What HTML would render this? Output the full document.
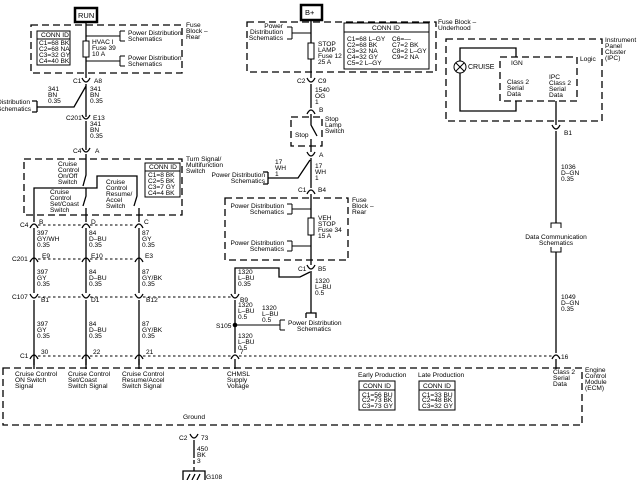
<!DOCTYPE html>
<html><head><meta charset="utf-8"><style>
body{margin:0;background:#fff}
svg{display:block}
text{font-family:"Liberation Sans",sans-serif;font-size:6.6px;fill:#000}
.w{stroke:#000;stroke-width:1.3;fill:none}
.d{stroke:#000;stroke-width:1.3;fill:none;stroke-dasharray:7,4}
.s{stroke:#000;stroke-width:1;fill:none;stroke-dasharray:2.5,2.5}
.b{stroke:#000;stroke-width:1;fill:#fff}
.t{stroke:#000;stroke-width:1;fill:none}
</style></head><body>
<svg width="640" height="480" viewBox="0 0 640 480" xmlns="http://www.w3.org/2000/svg">
<defs>
<path id="cup" d="M-4,-3 Q0,5 4,-3" stroke="#000" stroke-width="1.3" fill="none"/>
<path id="cap" d="M-4,3 Q0,-5 4,3" stroke="#000" stroke-width="1.3" fill="none"/>
</defs>

<!-- RUN -->
<rect x="75" y="8" width="22" height="14" fill="#fff" stroke="#000" stroke-width="2.5"/>
<text x="78" y="18" style="font-size:7.5px">RUN</text>
<rect x="31" y="25" width="151" height="48" class="d"/>
<rect x="37" y="31" width="33" height="34" class="b"/>
<line x1="37" y1="39" x2="70" y2="39" class="t"/>
<text x="41" y="37">CONN ID</text>
<text x="39" y="45">C1=68 BK</text><text x="39" y="51">C2=68 NA</text><text x="39" y="57">C3=32 GY</text><text x="39" y="63">C4=40 BK</text>
<line x1="86" y1="22" x2="86" y2="78" class="w"/>
<rect x="83" y="41" width="6" height="16" class="b"/>
<text x="92" y="44">HVAC I</text><text x="92" y="50">Fuse 39</text><text x="92" y="56">10 A</text>
<path d="M86,36 H120 M120,31 V41 M120,31 H125 M120,41 H125" class="t"/>
<text x="128" y="35">Power Distribution</text><text x="128" y="41">Schematics</text>
<path d="M86,61 H120 M120,56 V66 M120,56 H125 M120,66 H125" class="t"/>
<text x="128" y="60">Power Distribution</text><text x="128" y="66">Schematics</text>
<text x="186" y="27">Fuse</text><text x="186" y="33">Block –</text><text x="186" y="39">Rear</text>

<use href="#cup" x="86" y="81"/>
<text x="73" y="83">C1</text><text x="94" y="83">A8</text>
<path d="M86,84 V117 M86,86 L74,107 H37 M37,101 V112 M37,101 H32 M37,112 H32" class="w"/>
<text x="48" y="91">341</text><text x="48" y="97">BN</text><text x="48" y="103">0.35</text>
<text x="90" y="91">341</text><text x="90" y="97">BN</text><text x="90" y="103">0.35</text>
<text x="-3" y="104">Distribution</text><text x="-3" y="111">Schematics</text>
<use href="#cup" x="86" y="118"/>
<text x="66" y="120">C201</text><text x="93" y="120">E13</text>
<line x1="86" y1="121" x2="86" y2="150" class="w"/>
<text x="90" y="126">341</text><text x="90" y="132">BN</text><text x="90" y="138">0.35</text>
<use href="#cup" x="86" y="151"/>
<text x="73" y="153">C4</text><text x="95" y="153">A</text>

<!-- Turn signal switch -->
<rect x="24" y="159" width="158" height="56" class="d"/>
<text x="186" y="161">Turn Signal/</text><text x="186" y="167">Multifunction</text><text x="186" y="173">Switch</text>
<rect x="145" y="163" width="35" height="34" class="b"/>
<line x1="145" y1="171" x2="180" y2="171" class="t"/>
<text x="149" y="169">CONN ID</text>
<text x="148" y="177">C1=8 BK</text><text x="148" y="183">C2=5 BK</text><text x="148" y="189">C3=7 GY</text><text x="148" y="195">C4=4 BK</text>
<text x="58" y="166">Cruise</text><text x="58" y="172">Control</text><text x="58" y="178">On/Off</text><text x="58" y="184">Switch</text>
<text x="50" y="194">Cruise</text><text x="50" y="200">Control</text><text x="50" y="206">Set/Coast</text><text x="50" y="212">Switch</text>
<text x="106" y="184">Cruise</text><text x="106" y="190">Control</text><text x="106" y="196">Resume/</text><text x="106" y="202">Accel</text><text x="106" y="208">Switch</text>
<path d="M86,154 V175 L83,186 M86,188 V196 L83,206 M86,208 V222" class="w"/>
<path d="M34,222 V188 H97 V176 H137 V196 L134,206 M139,208 V222" class="w"/>

<!-- connector rows -->
<g>
<use href="#cap" x="34" y="225"/><use href="#cap" x="86" y="225"/><use href="#cap" x="139" y="225"/>
<path d="M38,225 H82 M90,225 H135" class="s"/>
<text x="20" y="227">C4</text><text x="39" y="224">B</text><text x="91" y="224">D</text><text x="144" y="224">C</text>
<use href="#cap" x="34" y="259"/><use href="#cap" x="86" y="259"/><use href="#cap" x="139" y="259"/>
<path d="M38,259 H82 M90,259 H135" class="s"/>
<text x="12" y="261">C201</text><text x="42" y="258">E9</text><text x="91" y="258">E10</text><text x="145" y="258">E3</text>
<use href="#cup" x="34" y="297"/><use href="#cup" x="86" y="297"/><use href="#cup" x="139" y="297"/><use href="#cup" x="235" y="297"/>
<path d="M38,297 H82 M90,297 H135 M143,297 H231" class="s"/>
<text x="12" y="299">C107</text><text x="41" y="302">B1</text><text x="91" y="302">D1</text><text x="146" y="302">B12</text><text x="240" y="302">B9</text>
<use href="#cap" x="34" y="356"/><use href="#cap" x="86" y="356"/><use href="#cap" x="139" y="356"/><use href="#cap" x="235" y="356"/><use href="#cap" x="556" y="356"/>
<path d="M38,356 H82 M90,356 H135 M143,356 H231 M239,356 H552" class="s"/>
<text x="20" y="358">C1</text><text x="41" y="354">30</text><text x="93" y="354">22</text><text x="146" y="354">21</text><text x="240" y="354">7</text><text x="561" y="359">16</text>
</g>
<path d="M34,228 V293 M34,300 V365 M86,228 V293 M86,300 V365 M139,228 V293 M139,300 V365" class="w"/>
<g>
<text x="37" y="235">397</text><text x="37" y="241">GY/WH</text><text x="37" y="247">0.35</text>
<text x="89" y="235">84</text><text x="89" y="241">D–BU</text><text x="89" y="247">0.35</text>
<text x="142" y="235">87</text><text x="142" y="241">GY</text><text x="142" y="247">0.35</text>
<text x="37" y="274">397</text><text x="37" y="280">GY</text><text x="37" y="286">0.35</text>
<text x="89" y="274">84</text><text x="89" y="280">D–BU</text><text x="89" y="286">0.35</text>
<text x="142" y="274">87</text><text x="142" y="280">GY/BK</text><text x="142" y="286">0.35</text>
<text x="37" y="326">397</text><text x="37" y="332">GY</text><text x="37" y="338">0.35</text>
<text x="89" y="326">84</text><text x="89" y="332">D–BU</text><text x="89" y="338">0.35</text>
<text x="142" y="326">87</text><text x="142" y="332">GY/BK</text><text x="142" y="338">0.35</text>
</g>

<!-- B+ -->
<rect x="301" y="5" width="21" height="15" fill="#fff" stroke="#000" stroke-width="2.5"/>
<text x="305" y="15" style="font-size:7.5px">B+</text>
<rect x="247" y="22" width="189" height="50" class="d"/>
<text x="438" y="24">Fuse Block –</text><text x="438" y="30">Underhood</text>
<line x1="311" y1="20" x2="311" y2="78" class="w"/>
<rect x="308" y="43" width="6" height="16" class="b"/>
<text x="318" y="46">STOP</text><text x="318" y="52">LAMP</text><text x="318" y="58">Fuse 12</text><text x="318" y="64">25 A</text>
<path d="M311,33 H292 M292,27 V39 M292,27 H287 M292,39 H287" class="t"/>
<text x="283" y="28" text-anchor="end">Power</text><text x="283" y="34" text-anchor="end">Distribution</text><text x="283" y="40" text-anchor="end">Schematics</text>
<rect x="344" y="23" width="85" height="46" class="b"/>
<line x1="344" y1="32" x2="429" y2="32" class="t"/>
<text x="372" y="30">CONN ID</text>
<text x="347" y="41">C1=68 L–GY</text><text x="347" y="47">C2=68 BK</text><text x="347" y="53">C3=32 NA</text><text x="347" y="59">C4=32 GY</text><text x="347" y="65">C5=2 L–GY</text>
<text x="392" y="41">C6=—</text><text x="392" y="47">C7=2 BK</text><text x="392" y="53">C8=2 L–GY</text><text x="392" y="59">C9=2 NA</text>
<use href="#cup" x="311" y="81"/>
<text x="297" y="83">C2</text><text x="318" y="83">C9</text>
<line x1="311" y1="84" x2="311" y2="108" class="w"/>
<text x="315" y="92">1540</text><text x="315" y="98">OG</text><text x="315" y="104">1</text>
<use href="#cap" x="311" y="111"/><text x="319" y="112">B</text>
<rect x="291" y="117" width="31" height="29" class="d"/>
<text x="295" y="137">Stop</text>
<text x="325" y="121">Stop</text><text x="325" y="127">Lamp</text><text x="325" y="133">Switch</text>
<path d="M311,114 V125 L317,136 M311,139 V152" class="w"/>
<use href="#cup" x="311" y="155"/><text x="319" y="157">A</text>
<path d="M311,158 V188 M310,160 L298,178 H268 M268,172 V184 M268,172 H263 M268,184 H263" class="w"/>
<text x="275" y="164">17</text><text x="275" y="170">WH</text><text x="275" y="176">1</text>
<text x="315" y="168">17</text><text x="315" y="174">WH</text><text x="315" y="180">1</text>
<text x="265" y="177" text-anchor="end">Power Distribution</text><text x="265" y="183" text-anchor="end">Schematics</text>
<use href="#cap" x="311" y="191"/>
<text x="298" y="192">C1</text><text x="318" y="192">B4</text>

<rect x="225" y="198" width="123" height="62" class="d"/>
<text x="352" y="202">Fuse</text><text x="352" y="208">Block –</text><text x="352" y="214">Rear</text>
<path d="M311,194 V265" class="w"/>
<rect x="308" y="218" width="6" height="17" class="b"/>
<text x="318" y="220">VEH</text><text x="318" y="226">STOP</text><text x="318" y="232">Fuse 34</text><text x="318" y="238">15 A</text>
<path d="M311,209 H292 M292,204 V214 M292,204 H287 M292,214 H287" class="t"/>
<text x="284" y="208" text-anchor="end">Power Distribution</text><text x="284" y="214" text-anchor="end">Schematics</text>
<path d="M311,246 H292 M292,241 V251 M292,241 H287 M292,251 H287" class="t"/>
<text x="284" y="245" text-anchor="end">Power Distribution</text><text x="284" y="251" text-anchor="end">Schematics</text>
<use href="#cup" x="311" y="268"/>
<text x="298" y="271">C1</text><text x="318" y="271">B5</text>
<path d="M311,271 V313 M306,313 V318 M306,313 H316 V318 M310,272 L300,277 H279 V268 H235 V294 M235,300 V353" class="w"/>
<text x="238" y="274">1320</text><text x="238" y="280">L–BU</text><text x="238" y="286">0.35</text>
<text x="315" y="283">1320</text><text x="315" y="289">L–BU</text><text x="315" y="295">0.5</text>
<text x="238" y="307">1320</text><text x="238" y="313">L–BU</text><text x="238" y="319">0.5</text>
<text x="262" y="310">1320</text><text x="262" y="316">L–BU</text><text x="262" y="322">0.5</text>
<circle cx="235" cy="325" r="2.3" fill="#000"/>
<text x="216" y="328">S105</text>
<path d="M235,325 H280 M280,320 V330 M280,320 H285 M280,330 H285" class="t"/>
<text x="288" y="325">Power Distribution</text><text x="297" y="331">Schematics</text>
<text x="238" y="338">1320</text><text x="238" y="344">L–BU</text><text x="238" y="350">0.5</text>

<!-- IPC -->
<rect x="446" y="39" width="156" height="82" class="d"/>
<text x="605" y="42">Instrument</text><text x="605" y="48">Panel</text><text x="605" y="54">Cluster</text><text x="605" y="60">(IPC)</text>
<rect x="500" y="57" width="77" height="44" class="d"/>
<text x="580" y="61">Logic</text>
<circle cx="460" cy="67" r="6" class="t" stroke-width="1.3"/>
<path d="M456,63 L464,71 M464,63 L456,71" class="t"/>
<text x="468" y="69" style="font-size:7px">CRUISE</text>
<path d="M460,61 V48 H516 V57 M460,73 V111 H516 V101" class="w"/>
<text x="511" y="65">IGN</text>
<text x="507" y="84">Class 2</text><text x="507" y="90">Serial</text><text x="507" y="96">Data</text>
<text x="549" y="79">IPC</text><text x="549" y="85">Class 2</text><text x="549" y="91">Serial</text><text x="549" y="97">Data</text>
<path d="M556,101 V125 M556,131 V223" class="w"/>
<use href="#cup" x="556" y="128"/>
<text x="564" y="135">B1</text>
<text x="561" y="169">1036</text><text x="561" y="175">D–GN</text><text x="561" y="181">0.35</text>
<path d="M551,228 V223 H561 V228 M551,247 V252 H561 V247" class="t"/>
<text x="556" y="239" text-anchor="middle">Data Communication</text><text x="556" y="245" text-anchor="middle">Schematics</text>
<path d="M556,252 V353" class="w"/>
<text x="561" y="299">1049</text><text x="561" y="305">D–GN</text><text x="561" y="311">0.35</text>

<!-- ECM -->
<rect x="3" y="368" width="579" height="57" class="d"/>
<path d="M34,359 V369 M86,359 V369 M139,359 V369 M235,359 V369 M556,359 V369" class="w"/>
<text x="15" y="376">Cruise Control</text><text x="15" y="382">ON Switch</text><text x="15" y="388">Signal</text>
<text x="68" y="376">Cruise Control</text><text x="68" y="382">Set/Coast</text><text x="68" y="388">Switch Signal</text>
<text x="122" y="376">Cruise Control</text><text x="122" y="382">Resume/Accel</text><text x="122" y="388">Switch Signal</text>
<text x="227" y="376">CHMSL</text><text x="227" y="382">Supply</text><text x="227" y="388">Voltage</text>
<text x="358" y="377">Early Production</text>
<rect x="359" y="381" width="36" height="29" class="b" stroke-width="1.3"/>
<line x1="359" y1="390" x2="395" y2="390" class="t"/>
<text x="363" y="388">CONN ID</text>
<text x="362" y="397">C1=56 BU</text><text x="362" y="402">C2=73 BK</text><text x="362" y="408">C3=73 GY</text>
<text x="418" y="377">Late Production</text>
<rect x="419" y="381" width="36" height="29" class="b" stroke-width="1.3"/>
<line x1="419" y1="390" x2="455" y2="390" class="t"/>
<text x="423" y="388">CONN ID</text>
<text x="422" y="397">C1=33 BU</text><text x="422" y="402">C2=48 BK</text><text x="422" y="408">C3=32 GY</text>
<text x="553" y="374">Class 2</text><text x="553" y="380">Serial</text><text x="553" y="386">Data</text>
<text x="585" y="372">Engine</text><text x="585" y="378">Control</text><text x="585" y="384">Module</text><text x="585" y="390">(ECM)</text>
<text x="183" y="419">Ground</text>
<use href="#cup" x="194" y="437"/>
<text x="179" y="440">C2</text><text x="201" y="440">73</text>
<path d="M194,440 V458" class="w"/>
<path d="M194,460 V471" class="w" stroke-dasharray="4,3"/>
<text x="197" y="451">450</text><text x="197" y="457">BK</text><text x="197" y="463">3</text>
<path d="M183,480 V471 H205 V480 M187,480 L190,474 M192,480 L195,474 M197,480 L200,474" class="w"/>
<text x="206" y="479">G108</text>
</svg>
</body></html>
